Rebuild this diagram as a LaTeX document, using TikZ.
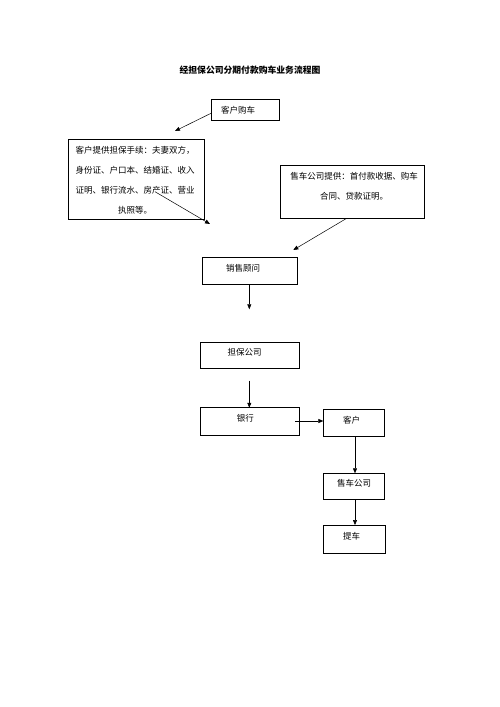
\documentclass[tikz,border=0pt]{standalone}
\usepackage{fontspec}
\setmainfont{Noto Sans CJK SC}
\usetikzlibrary{arrows.meta}
\begin{document}
\begin{tikzpicture}[x=1pt,y=-1pt,
  box/.style={draw,line width=0.6pt,inner sep=0pt,outer sep=0pt},
  lbl/.style={inner sep=0pt,font=\fontsize{8.5}{20}\selectfont},
  arr/.style={line width=0.5pt,-{Triangle[length=5pt,width=4pt]}},
  ]
\useasboundingbox (0,0) rectangle (500,707);
\node[inner sep=0pt,font=\fontsize{8.8}{10}\selectfont\bfseries] (title) at (250,70.5) {经担保公司分期付款购车业务流程图};
% boxes
\node[box,minimum width=67.6pt,minimum height=20.7pt] (b1) at (245.5,109.7) {};
\node[lbl] (t1) at (238,110.5) {客户购车};
\node[box,minimum width=135.7pt,minimum height=80.3pt] (b2) at (136.2,179.2) {};
\node[lbl,align=center] (t2) at (135,179.8) {客户提供担保手续：夫妻双方，\\身份证、户口本、结婚证、收入\\证明、银行流水、房产证、营业\\执照等。};
\node[box,minimum width=143.6pt,minimum height=53.3pt] (b3) at (352.5,191.7) {};
\node[lbl,align=center] (t3) at (354,186.7) {售车公司提供：首付款收据、购车\\合同、贷款证明。};
\node[box,minimum width=95pt,minimum height=26.3pt] (b4) at (250.2,270.9) {};
\node[lbl] (t4) at (243,268.3) {销售顾问};
\node[box,minimum width=98.6pt,minimum height=26pt] (b5) at (250,355.3) {};
\node[lbl] (t5) at (244.5,352.7) {担保公司};
\node[box,minimum width=98.6pt,minimum height=27.3pt] (b6) at (250,421.4) {};
\node[lbl] (t6) at (245.3,418.3) {银行};
\node[box,minimum width=60.7pt,minimum height=26.7pt] (b7) at (353.7,422.7) {};
\node[lbl] (t7) at (351.7,420) {客户};
\node[box,minimum width=60.7pt,minimum height=26pt] (b8) at (353.7,486.3) {};
\node[lbl] (t8) at (354,483.3) {售车公司};
\node[box,minimum width=62.4pt,minimum height=28.3pt] (b9) at (354.5,539.2) {};
\node[lbl] (t9) at (351.7,536) {提车};
% connector end points
\coordinate (a1s) at (211,113.3);
\coordinate (a1e) at (175,131);
\coordinate (a2s) at (155,191.7);
\coordinate (a2e) at (210,224);
\coordinate (a3s) at (346.7,218.3);
\coordinate (a3e) at (293.3,250);
\coordinate (a4e) at (249.3,309.3);
\coordinate (a5s) at (249.3,380.7);
\coordinate (a6s) at (295,421);
% connectors
\draw[arr] (a1s) -- (a1e);
\draw[arr] (a2s) -- (a2e);
\draw[arr] (a3s) -- (a3e);
\draw[arr] (b4.south -| a4e) -- (a4e);
\draw[arr] (a5s) -- (b6.north -| a5s);
\draw[arr] (a6s) -- (b7.west |- a6s);
\draw[arr] ([xshift=1.3pt]b7.south) -- ([xshift=1.3pt]b8.north);
\draw[arr] ([xshift=1.3pt]b8.south) -- ([xshift=0.5pt]b9.north);
\end{tikzpicture}
\end{document}
